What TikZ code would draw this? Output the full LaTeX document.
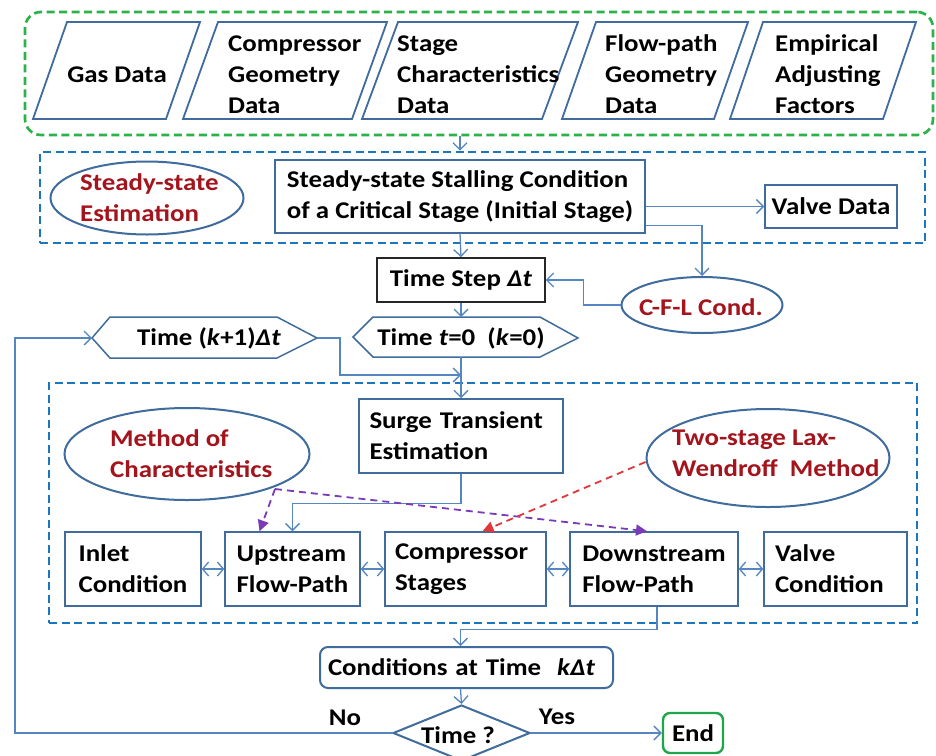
\documentclass[tikz,border=0pt]{standalone}
\usepackage{fontspec}
\setmainfont{Carlito}[FakeStretch=1.12]
\usetikzlibrary{arrows.meta,shapes.geometric,calc}
\definecolor{boxc}{HTML}{3F6C9C}
\definecolor{arrc}{HTML}{5586C2}
\definecolor{dashb}{HTML}{1B76C0}
\definecolor{dashg}{HTML}{2DB24A}
\definecolor{redt}{HTML}{A3141C}
\definecolor{purp}{HTML}{7B3AB8}
\definecolor{redd}{HTML}{E0383A}
\definecolor{endg}{HTML}{1FA64A}
\tikzset{
  txt/.style={inner sep=0pt, align=left, font=\fontsize{24}{31}\selectfont\bfseries},
  procbox/.style={draw=boxc, line width=1.5pt, inner sep=0pt, align=left, font=\fontsize{24}{31}\selectfont\bfseries},
  ell/.style={ellipse, draw=boxc, line width=2pt, inner sep=0pt},
  redtxt/.style={txt, text=redt},
  datashape/.style={draw=boxc, line width=1.8pt},
  hexshape/.style={draw=boxc, line width=1.5pt},
  arr/.style={draw=arrc, line width=1.3pt, -{Straight Barb[length=7pt,width=14pt]}},
  dbl/.style={draw=arrc, line width=1.3pt, {Straight Barb[length=6pt,width=14pt]}-{Straight Barb[length=6pt,width=14pt]}},
  cont/.style={line width=2.7pt, dash pattern=on 8pt off 4.5pt, inner sep=0pt},
  purparr/.style={draw=purp, line width=1.8pt, dash pattern=on 7pt off 5pt, -{Triangle[length=11pt,width=11pt]}},
  redarr/.style={draw=redd, line width=1.8pt, dash pattern=on 7pt off 5pt, -{Triangle[length=11pt,width=11pt]}},
}
\begin{document}
\begin{tikzpicture}[x=1pt,y=-1pt]
\useasboundingbox (0,0) rectangle (936,755);
\clip (0,0) rectangle (936,755);
\fill[white] (0,0) rectangle (936,755);

% containers
\node[cont, draw=dashg, rounded corners=16pt, minimum width=908, minimum height=123] (inputs) at (479,73.5) {};
\node[cont, draw=dashb, minimum width=885, minimum height=91] (steady) at (482.5,197.5) {};
\node[cont, draw=dashb, minimum width=868, minimum height=240] (surgebox) at (483,503) {};

% input parallelograms
\draw[datashape] (33,119) -- (67,22) -- (200,22) -- (166,119) -- cycle;
\draw[datashape] (183,119) -- (218,22) -- (387,22) -- (352,119) -- cycle;
\draw[datashape] (362,119) -- (398,22) -- (578,22) -- (542,119) -- cycle;
\draw[datashape] (562,119) -- (596,22) -- (748,22) -- (714,119) -- cycle;
\draw[datashape] (730,119) -- (763,22) -- (916,22) -- (883,119) -- cycle;
\node[txt] (gas) at (117,75) {Gas Data};
\node[txt, anchor=west] (compgeo) at (228,74.5) {Compressor\\Geometry\\Data};
\node[txt, anchor=west] (stagech) at (397,74.5) {Stage\\Characteristics\\Data};
\node[txt, anchor=west] (flowgeo) at (605,74.5) {Flow-path\\Geometry\\Data};
\node[txt, anchor=west] (empir) at (775,74.5) {Empirical\\Adjusting\\Factors};

% steady-state part
\node[ell, minimum width=193, minimum height=73] (sse) at (147,198) {};
\node[redtxt, anchor=west] (ssetxt) at (80,198) {Steady-state\\Estimation};
\node[procbox, minimum width=370, minimum height=73] (stall) at (460,196.5) {Steady-state Stalling Condition\\of a Critical Stage (Initial Stage)};
\node[procbox, minimum width=132, minimum height=43, align=center] (valve) at (831,206.5) {Valve Data};

% time step
\node[procbox, draw=black!85, minimum width=168, minimum height=44, align=center] (tstep) at (461,280) {Time Step \textit{Δt}};
\node[ell, minimum width=161, minimum height=56] (cfl) at (702,305) {};
\node[redtxt] (cfltxt) at (701,307) {C-F-L Cond.};

% hexagons
\draw[hexshape] (92,338) -- (110,317) -- (277,317) -- (317,338) -- (277,358) -- (110,358) -- cycle;
\coordinate (hexAw) at (92,338);
\coordinate (hexAe) at (317,338);
\node[txt] (hexA) at (209,338) {Time (\textit{k}+1)\textit{Δt}};
\draw[hexshape] (353,337) -- (373,317) -- (540,317) -- (578,338) -- (540,357) -- (373,357) -- cycle;
\coordinate (hexBn) at (461,317);
\coordinate (hexBs) at (461,357);
\node[txt] (hexB) at (461,338) {Time~\textit{t}=0~~(\textit{k}=0)};
\coordinate (join) at (461,375);

% surge transient part
\node[procbox, minimum width=204, minimum height=74, text width=183, inner xsep=10.5pt] (surge) at (461,436) {Surge Transient\\Estimation};
\node[ell, minimum width=245, minimum height=92] (moc) at (187,454) {};
\node[redtxt, anchor=west] (moctxt) at (110,454) {Method of\\Characteristics};
\node[ell, minimum width=243, minimum height=98] (lw) at (768,458) {};
\node[redtxt, anchor=west] (lwtxt) at (672,453) {Two-stage Lax-\\Wendroff~~Method};

\node[procbox, minimum width=136, minimum height=74] (inlet) at (133,569) {Inlet\\Condition};
\node[procbox, minimum width=135, minimum height=74] (up) at (292.5,569) {Upstream\\Flow-Path};
\node[procbox, minimum width=161, minimum height=74, text width=141, inner xsep=10pt] (comp) at (465.5,569) {Compressor\\Stages};
\node[procbox, minimum width=168, minimum height=74] (down) at (654,569) {Downstream\\Flow-Path};
\node[procbox, minimum width=143, minimum height=74, text width=121, inner xsep=11pt] (valvec) at (835.5,569) {Valve\\Condition};

% bottom
\node[procbox, line width=2pt, rounded corners=8pt, minimum width=293, minimum height=41, text width=277, inner xsep=8pt] (cond) at (466.5,667.5) {Conditions at Time~~\textit{kΔt}};
\node[diamond, draw=boxc, line width=2pt, minimum width=137, minimum height=56, inner sep=0pt] (dec) at (461.5,733) {};
\node[txt] (dectxt) at (458,735) {Time ?};
\node[procbox, draw=endg, line width=2.4pt, rounded corners=7pt, minimum width=60, minimum height=40, align=center] (endn) at (693,733) {End};
\node[txt] (nolbl) at (345,718) {No};
\node[txt] (yeslbl) at (557,717) {Yes};
\coordinate (loopbl) at (15,733);

% connectors
\draw[arr] (inputs.south -| stall.north) -- (steady.north -| stall.north);
\draw[arr] (stall.south) -- (tstep.north);
\draw[arr] (valve.west -| stall.east) -- (valve.west);
\draw[arr] ([yshift=8pt]stall.south east) -| (cfl.north);
\draw[arr] (cfl.west) -- ++(-37,0) |- (tstep.east);
\draw[arr] (tstep.south) -- (hexBn);
\draw[arr] (hexBs) -- (surge.north);
\draw[arr] (hexAe) -- ++(23,0) |- (join);
\draw[arr] (surge.south) -- ++(0,30) -| (up.north);
\draw[dbl] (inlet.east) -- (up.west);
\draw[dbl] (up.east) -- (comp.west);
\draw[dbl] (comp.east) -- (down.west);
\draw[dbl] (down.east) -- (valvec.west);
\draw[purparr] ($(moc.south)+(88,-12)$) -- ([xshift=-33pt]up.north);
\draw[purparr] ($(moc.south)+(88,-12)$) -- ([xshift=-7pt]down.north);
\draw[redarr] ($(lw.west)+(0,4)$) -- ([xshift=17pt]comp.north);
\draw[arr] ([xshift=3pt]down.south) -- ++(0,23) -| ([xshift=-6pt]cond.north);
\draw[arr] ([xshift=-6pt]cond.south) -- (dec.north);
\draw[arr] (dec.east) -- (endn.west);
\draw[arr] (dec.west) -- (loopbl) |- (hexAw);
\end{tikzpicture}
\end{document}
